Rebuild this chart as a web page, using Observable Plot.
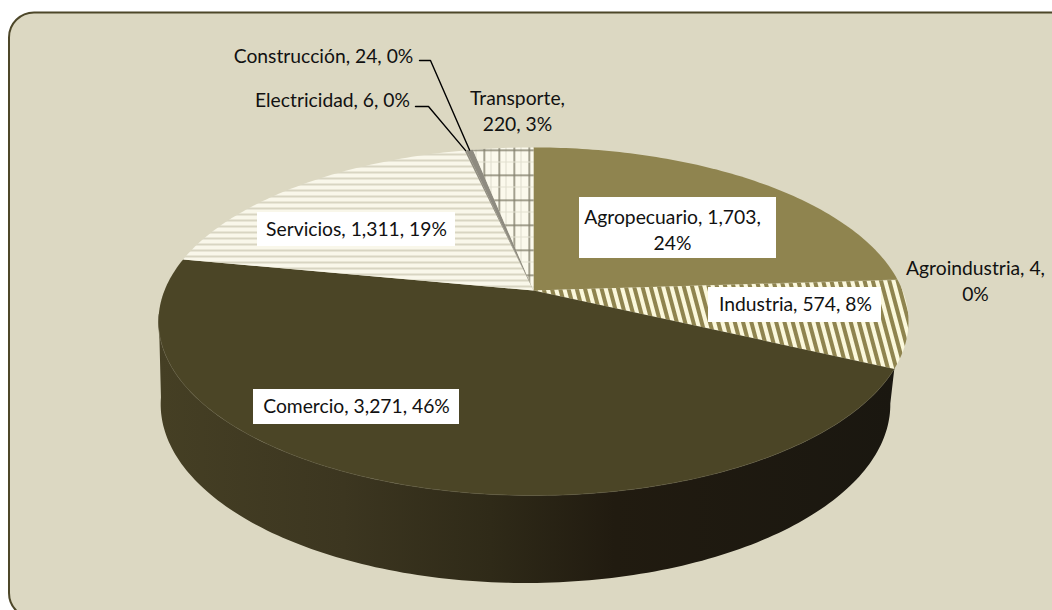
<!DOCTYPE html>
<html lang="es">
<head>
<meta charset="utf-8">
<style>
  html, body { margin: 0; padding: 0; background: #fff; }
  svg { display: block; }
</style>
<script src="https://cdn.jsdelivr.net/npm/d3@7"></script>
<script src="https://cdn.jsdelivr.net/npm/@observablehq/plot@0.6"></script>
</head>
<body>
<div id="chart"></div>
<script>
// Sector figures, clockwise from twelve o'clock
const categories = ["Agropecuario", "Agroindustria", "Industria", "Comercio", "Servicios", "Electricidad", "Construcción", "Transporte"];
const values = [1703, 4, 574, 3271, 1311, 6, 24, 220];
const percents = [24, 0, 8, 46, 19, 0, 0, 3];

// Top-face fills, one per sector
const sliceFills = ["#8f844f", "#8f844f", "url(#hatch-industria)", "#4b4526", "url(#hatch-servicios)", "#8e8b80", "#8e8b80", "url(#hatch-transporte)"];

// Label layout: centre of each text block, and where it wraps
const labelCentres = {
  "Agropecuario": [672, 228], "Agroindustria": [975, 279], "Industria": [795, 302], "Comercio": [356, 404],
  "Servicios": [356, 227], "Electricidad": [332, 98], "Construcción": [323, 54], "Transporte": [517, 109]
};
const wrapAfterName = ["Transporte"];
const wrapBeforePercent = ["Agropecuario", "Agroindustria"];

// White plates behind the labels that sit on the pie
const plates = [
  {x1: 579, x2: 776, y1: 197, y2: 258},
  {x1: 708, x2: 881, y1: 287, y2: 322},
  {x1: 253, x2: 459, y1: 389, y2: 424},
  {x1: 257, x2: 455, y1: 212, y2: 246}
];

// Elbows of the leader lines, the last leg runs to the slice rim
const leaderElbows = {
  "Electricidad": [[415, 106], [428, 106]],
  "Construcción": [[419, 60], [430, 60]]
};

// Perspective disc: a circle tilted away from the viewer
const tilt = 0.178;
const topDisc = {cx: 533, cy: 290, rx: 369, ry: 168.5};
const baseDisc = {cx: 525, cy: 372, rx: 359, ry: 173};
const project = (disc, a) => {
  const u = Math.sin(a), v = Math.cos(a), w = 1 + tilt * v;
  return {x: disc.cx + disc.rx * u / w, y: disc.cy - disc.ry * v / w};
};
const arc = (disc, a0, a1) => {
  const n = Math.max(2, Math.ceil(Math.abs(a1 - a0) / (Math.PI / 180)));
  return d3.range(n + 1).map(i => project(disc, a0 + (a1 - a0) * i / n));
};
const rad = d => d * Math.PI / 180;

const arcs = d3.pie().sort(null)(values);
const sliceArcs = arcs.map((s, i) => ({name: categories[i], start: s.startAngle, end: s.endAngle, fill: sliceFills[i]}));
const comercio = sliceArcs[categories.indexOf("Comercio")];

const labelText = (name, i) => {
  const v = d3.format(",")(values[i]);
  if (wrapAfterName.includes(name)) return `${name},\n${v}, ${percents[i]}%`;
  if (wrapBeforePercent.includes(name)) return `${name}, ${v},\n${percents[i]}%`;
  return `${name}, ${v}, ${percents[i]}%`;
};
const labels = categories.map((name, i) => ({text: labelText(name, i), x: labelCentres[name][0], y: labelCentres[name][1]}));

// Front wall runs from the end of Industria round to the left silhouette,
// and returns along the base to the right silhouette
const wall = [...arc(topDisc, comercio.start, rad(262)), ...arc(baseDisc, rad(262), rad(100))];

const slicePolygon = s => [{x: topDisc.cx, y: topDisc.cy}, ...arc(topDisc, s.start, s.end)];

const lineOpts = {x: "x", y: "y"};
const chart = Plot.plot({
  width: 1052,
  height: 610,
  margin: 0,
  x: {domain: [0, 1052], range: [0, 1052], axis: null},
  y: {domain: [0, 610], range: [0, 610], axis: null},
  style: {background: "#ffffff", fontFamily: "Lato, sans-serif"},
  marks: [
    Plot.rect([{x1: 9, x2: 1075, y1: 12.5, y2: 618}], {x1: "x1", x2: "x2", y1: "y1", y2: "y2", fill: "#dcd8c2", stroke: "#4d4729", strokeWidth: 2, rx: 25}),
    Plot.line(wall, {...lineOpts, fill: "url(#wall-shade)", stroke: "none", curve: "linear-closed"}),
    ...sliceArcs.map(s => Plot.line(slicePolygon(s), {...lineOpts, fill: s.fill, stroke: "none", curve: "linear-closed"})),
    Plot.line(arc(topDisc, comercio.start, rad(262)), {...lineOpts, stroke: "#5f5a40", strokeWidth: 0.8, strokeOpacity: 0.7}),
    ...Object.entries(leaderElbows).map(([name, elbow]) => {
      const s = sliceArcs[categories.indexOf(name)];
      const rim = project(topDisc, (s.start + s.end) / 2);
      return Plot.line([...elbow.map(([x, y]) => ({x, y})), rim], {...lineOpts, stroke: "#000000", strokeWidth: 1.4});
    }),
    Plot.rect(plates, {x1: "x1", x2: "x2", y1: "y1", y2: "y2", fill: "#ffffff"}),
    Plot.text(labels, {x: "x", y: "y", text: "text", fontSize: 19.3, lineHeight: 1.35, fill: "#111111", textAnchor: "middle", lineAnchor: "middle"})
  ]
});

// Hatch patterns and the wall's shading
const defs = d3.select(chart).insert("defs", ":first-child");
const shade = defs.append("linearGradient").attr("id", "wall-shade").attr("gradientUnits", "userSpaceOnUse")
  .attr("x1", 160).attr("x2", 893).attr("y1", 0).attr("y2", 0);
[[0, "#453f24"], [0.25, "#3c3620"], [0.45, "#2f2a18"], [0.62, "#211b10"], [1, "#1a1710"]]
  .forEach(([o, c]) => shade.append("stop").attr("offset", o).attr("stop-color", c));

const servicios = defs.append("pattern").attr("id", "hatch-servicios").attr("patternUnits", "userSpaceOnUse")
  .attr("width", 8).attr("height", 6);
servicios.append("rect").attr("width", 8).attr("height", 6).attr("fill", "#f9f7ea");
servicios.append("rect").attr("y", 3).attr("width", 8).attr("height", 2).attr("fill", "#d8d5c2");

const transporte = defs.append("pattern").attr("id", "hatch-transporte").attr("patternUnits", "userSpaceOnUse")
  .attr("x", 483).attr("y", 147).attr("width", 15).attr("height", 25);
transporte.append("rect").attr("width", 15).attr("height", 25).attr("fill", "#fbf9ec");
transporte.append("rect").attr("x", 0).attr("width", 1.5).attr("height", 25).attr("fill", "#85826f");
transporte.append("rect").attr("x", 7).attr("width", 1).attr("height", 25).attr("fill", "#dcdacb");
transporte.append("rect").attr("y", 2).attr("width", 15).attr("height", 1.5).attr("fill", "#85826f");
transporte.append("rect").attr("y", 14).attr("width", 15).attr("height", 1).attr("fill", "#e2e0d0");

const industria = defs.append("pattern").attr("id", "hatch-industria").attr("patternUnits", "userSpaceOnUse")
  .attr("width", 8).attr("height", 8).attr("patternTransform", "rotate(-15)");
industria.append("rect").attr("width", 8).attr("height", 8).attr("fill", "#fbf8dc");
industria.append("rect").attr("width", 4).attr("height", 8).attr("fill", "#8f844f");

document.getElementById("chart").append(chart);
</script>
</body>
</html>
